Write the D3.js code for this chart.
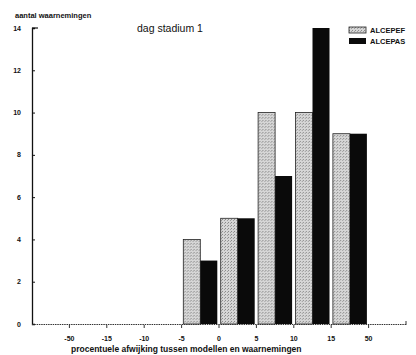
<!DOCTYPE html>
<html>
<head>
<meta charset="utf-8">
<script src="https://cdn.jsdelivr.net/npm/d3@7"></script>
<style>
  body { margin: 0; background: #fff; }
  text { font-family: "Liberation Sans", Arial, sans-serif; fill: #111; }
</style>
</head>
<body>
<script>
// bins along the x axis (10 classes, labels sit on the borders between them)
var bins = ["b0", "b1", "b2", "b3", "b4", "b5", "b6", "b7", "b8", "b9"];
var borderLabels = ["-50", "-15", "-10", "-5", "0", "5", "10", "15", "50"];
var alcepef = [0, 0, 0, 0, 4, 5, 10, 10, 9, 0];
var alcepas = [0, 0, 0, 0, 3, 5, 7, 14, 9, 0];
var yTicks = [0, 2, 4, 6, 8, 10, 12, 14];

var width = 416, height = 355;
var margin = {left: 32, right: 10, top: 28, bottom: 31};

var svg = d3.select("body").append("svg")
    .attr("width", width)
    .attr("height", height);

// stippled grey like the scanned print
var defs = svg.append("defs");
var pat = defs.append("pattern")
    .attr("id", "stipple")
    .attr("width", 3).attr("height", 3)
    .attr("patternUnits", "userSpaceOnUse");
pat.append("rect").attr("width", 3).attr("height", 3).attr("fill", "#d6d6d6");
pat.append("rect").attr("x", 0).attr("y", 0).attr("width", 1).attr("height", 1).attr("fill", "#8a8a8a");
pat.append("rect").attr("x", 2).attr("y", 1).attr("width", 1).attr("height", 1).attr("fill", "#a0a0a0");

var x = d3.scaleBand()
    .domain(bins)
    .range([margin.left, width - margin.right]);

var inner = d3.scaleBand()
    .domain(["pef", "pas"])
    .range([0, x.bandwidth()])
    .paddingInner(0)
    .paddingOuter(0.1);

var y = d3.scaleLinear()
    .domain([0, 14])
    .range([height - margin.bottom, margin.top]);

// bars
var groups = svg.selectAll("g.bin")
    .data(bins)
    .enter()
    .append("g")
    .attr("class", "bin")
    .attr("transform", function(d) { return "translate(" + x(d) + ",0)"; });

groups.filter(function(d, i) { return alcepef[i] > 0; })
    .append("rect")
    .attr("x", inner("pef"))
    .attr("width", inner.bandwidth())
    .attr("y", function(d) { return y(alcepef[bins.indexOf(d)]); })
    .attr("height", function(d) { return y(0) - y(alcepef[bins.indexOf(d)]); })
    .attr("fill", "url(#stipple)")
    .attr("stroke", "#222")
    .attr("stroke-width", 0.8);

groups.filter(function(d, i) { return alcepas[i] > 0; })
    .append("rect")
    .attr("x", inner("pas"))
    .attr("width", inner.bandwidth())
    .attr("y", function(d) { return y(alcepas[bins.indexOf(d)]); })
    .attr("height", function(d) { return y(0) - y(alcepas[bins.indexOf(d)]); })
    .attr("fill", "#0a0a0a");

// y axis
var yAxis = d3.axisRight(y)
    .tickValues(yTicks)
    .tickSize(3)
    .tickFormat("");
var gy = svg.append("g")
    .attr("transform", "translate(" + margin.left + ",0)")
    .call(yAxis);
gy.select(".domain").attr("stroke", "#111").attr("stroke-width", 1.3);
gy.selectAll(".tick line").attr("stroke", "#111");

svg.selectAll("text.ylab")
    .data(yTicks)
    .enter()
    .append("text")
    .attr("class", "ylab")
    .attr("x", 21)
    .attr("y", function(d) { return y(d) + 2.5; })
    .attr("text-anchor", "end")
    .style("font-size", "7px")
    .style("font-weight", "bold")
    .text(function(d) { return d; });

// top tick of the y axis
svg.append("line")
    .attr("x1", margin.left).attr("x2", margin.left + 6)
    .attr("y1", y(14)).attr("y2", y(14))
    .attr("stroke", "#111").attr("stroke-width", 1.2);

// x axis (dotted baseline)
svg.append("line")
    .attr("x1", margin.left).attr("x2", width - margin.right)
    .attr("y1", y(0) + 0.5).attr("y2", y(0) + 0.5)
    .attr("stroke", "#333")
    .attr("stroke-width", 1.2)
    .attr("stroke-dasharray", "1.5,0.8");

var borders = bins.slice(1);
svg.selectAll("line.xtick")
    .data(borders)
    .enter()
    .append("line")
    .attr("class", "xtick")
    .attr("x1", function(d) { return x(d); })
    .attr("x2", function(d) { return x(d); })
    .attr("y1", y(0) + 1)
    .attr("y2", y(0) + 4)
    .attr("stroke", "#333");

svg.append("line")
    .attr("x1", width - margin.right).attr("x2", width - margin.right)
    .attr("y1", y(0) + 1).attr("y2", y(0) - 3)
    .attr("stroke", "#333");

svg.selectAll("text.xlab")
    .data(borderLabels)
    .enter()
    .append("text")
    .attr("class", "xlab")
    .attr("x", function(d, i) { return x(borders[i]); })
    .attr("y", y(0) + 17)
    .attr("text-anchor", "middle")
    .style("font-size", "7px")
    .style("font-weight", "bold")
    .text(function(d) { return d; });

// titles
svg.append("text")
    .attr("x", 15).attr("y", 18)
    .style("font-size", "7.5px")
    .style("font-weight", "bold")
    .text("aantal waarnemingen");

svg.append("text")
    .attr("x", 137).attr("y", 32)
    .style("font-size", "10.5px")
    .text("dag stadium 1");

svg.append("text")
    .attr("x", 71).attr("y", 352)
    .style("font-size", "8.5px")
    .style("font-weight", "bold")
    .text("procentuele afwijking tussen modellen en waarnemingen");

// legend
var legendItems = [
  {name: "ALCEPEF", fill: "url(#stipple)", stroke: "#222", y: 27},
  {name: "ALCEPAS", fill: "#0a0a0a", stroke: "none", y: 38}
];
var legend = svg.selectAll("g.legend")
    .data(legendItems)
    .enter()
    .append("g")
    .attr("class", "legend")
    .attr("transform", function(d) { return "translate(349," + d.y + ")"; });
legend.append("rect")
    .attr("width", 17).attr("height", 6)
    .attr("fill", function(d) { return d.fill; })
    .attr("stroke", function(d) { return d.stroke; })
    .attr("stroke-width", 0.8);
legend.append("text")
    .attr("x", 21).attr("y", 6)
    .style("font-size", "7.5px")
    .style("font-weight", "bold")
    .text(function(d) { return d.name; });
</script>
</body>
</html>
